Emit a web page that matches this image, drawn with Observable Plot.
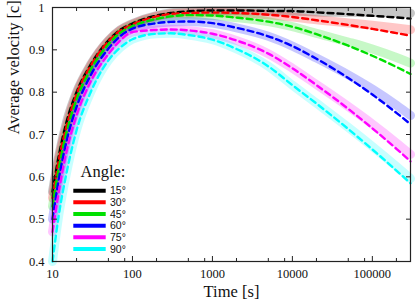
<!DOCTYPE html>
<html>
<head>
<meta charset="utf-8">
<script src="https://cdn.jsdelivr.net/npm/d3@7"></script>
<script src="https://cdn.jsdelivr.net/npm/@observablehq/plot@0.6"></script>
<style>
  html, body { margin: 0; padding: 0; background: white; }
  #chart { position: relative; width: 415px; height: 303px; }
</style>
</head>
<body>
<div id="chart"></div>
<script>
// ---- data ----
const times = [10, 12, 15, 20, 30, 50, 70, 100, 200, 300, 500, 1000, 2000, 5000, 10000, 20000, 50000, 100000, 200000, 300000];
const angles = ["15°", "30°", "45°", "60°", "75°", "90°"];
const colors = ["#000000", "#ff0000", "#00e000", "#0000ff", "#ff00ff", "#00ffff"];

const v15 = [0.565, 0.65, 0.73, 0.80, 0.865, 0.922, 0.947, 0.962, 0.981, 0.987, 0.991, 0.993, 0.993, 0.992, 0.9916, 0.9886, 0.9842, 0.9804, 0.9764, 0.9738];
const v30 = [0.55, 0.64, 0.72, 0.795, 0.862, 0.92, 0.945, 0.96, 0.979, 0.985, 0.987, 0.988, 0.987, 0.983, 0.9776, 0.9699, 0.9587, 0.9495, 0.9395, 0.9335];
const v45 = [0.53, 0.62, 0.705, 0.783, 0.853, 0.913, 0.94, 0.956, 0.973, 0.979, 0.982, 0.981, 0.976, 0.9665, 0.9546, 0.9370, 0.9097, 0.886, 0.8596, 0.843];
const v60 = [0.50, 0.595, 0.685, 0.765, 0.84, 0.903, 0.932, 0.95, 0.963, 0.966, 0.967, 0.963, 0.952, 0.932, 0.9089, 0.8789, 0.8335, 0.7943, 0.7512, 0.7242];
const v75 = [0.47, 0.565, 0.66, 0.745, 0.825, 0.89, 0.922, 0.942, 0.947, 0.948, 0.946, 0.938, 0.922, 0.891, 0.8565, 0.8167, 0.7605, 0.7146, 0.6662, 0.6367];
const v90 = [0.40, 0.51, 0.61, 0.71, 0.80, 0.875, 0.905, 0.925, 0.938, 0.939, 0.935, 0.924, 0.902, 0.861, 0.8166, 0.7731, 0.7129, 0.6648, 0.6148, 0.5847];

// the light bands follow the dashed curves, then separate at late times
const bandTimes = [20000, 50000, 100000, 200000, 300000];
const b15 = [0.9896, 0.9887, 0.9883, 0.9875, 0.9866];
const b30 = [0.9710, 0.9636, 0.9581, 0.9516, 0.9474];
const b45 = [0.9390, 0.9186, 0.9018, 0.8818, 0.8685];
const b60 = [0.8806, 0.8408, 0.8072, 0.7693, 0.7450];
const b75 = [0.8180, 0.7661, 0.7246, 0.6802, 0.6528];
const b90 = [0.7740, 0.7169, 0.6718, 0.6247, 0.5960];

const xMajor = [10, 100, 1000, 10000, 100000];
const xMinor = [20, 50, 80, 200, 500, 800, 2000, 5000, 8000, 20000, 50000, 80000, 200000];
const yMajor = [0.4, 0.5, 0.6, 0.7, 0.8, 0.9, 1];

// ---- build tables ----
const series = [v15, v30, v45, v60, v75, v90];
const bands = [b15, b30, b45, b60, b75, b90];
const dashed = [];
const band = [];
series.forEach((vals, k) => {
  times.forEach((t, i) => {
    dashed.push({angle: angles[k], t, v: vals[i]});
    if (t <= 10000) band.push({angle: angles[k], t, v: vals[i]});
  });
  bandTimes.forEach((t, i) => band.push({angle: angles[k], t, v: bands[k][i]}));
});

const plot = Plot.plot({
  width: 415,
  height: 303,
  marginLeft: 52,
  marginRight: 5,
  marginTop: 7,
  marginBottom: 42,
  style: {fontFamily: "'Liberation Serif', serif", fontSize: "12.5px", background: "white", color: "#111"},
  x: {type: "log", domain: [10, 300000], label: null},
  y: {domain: [0.4, 1], label: null},
  color: {domain: angles, range: colors},
  marks: [
    Plot.line(band, {x: "t", y: "v", z: "angle", stroke: "angle", strokeWidth: 9, strokeOpacity: 0.22, curve: "monotone-x"}),
    Plot.line(dashed, {x: "t", y: "v", z: "angle", stroke: "angle", strokeWidth: 2.4, strokeDasharray: "6,4", curve: "monotone-x"}),
    // tick labels
    Plot.axisX({ticks: xMajor, tickSize: 0, tickPadding: 8, tickFormat: d => String(d), label: null}),
    Plot.axisY({ticks: yMajor, tickSize: 0, tickPadding: 8, tickFormat: d => String(+d.toFixed(1)), label: null}),
    // inward tick marks
    Plot.axisX({ticks: xMajor, anchor: "bottom", tickSize: -5, tickFormat: () => "", label: null, stroke: "#222"}),
    Plot.axisX({ticks: xMajor, anchor: "top", tickSize: -5, tickFormat: () => "", label: null, stroke: "#222"}),
    Plot.axisX({ticks: xMinor, anchor: "bottom", tickSize: -3, tickFormat: () => "", label: null, stroke: "#222"}),
    Plot.axisX({ticks: xMinor, anchor: "top", tickSize: -3, tickFormat: () => "", label: null, stroke: "#222"}),
    Plot.axisY({ticks: yMajor, anchor: "left", tickSize: -5, tickFormat: () => "", label: null, stroke: "#222"}),
    Plot.axisY({ticks: yMajor, anchor: "right", tickSize: -5, tickFormat: () => "", label: null, stroke: "#222"}),
    Plot.frame({stroke: "#222", strokeWidth: 1.2}),
    Plot.text(["Time [s]"], {frameAnchor: "bottom", dy: 35, fontSize: 16.5, fill: "#111"}),
    Plot.text(["Average velocity [c]"], {frameAnchor: "left", dx: -39, rotate: -90, fontSize: 16.5, fill: "#111"})
  ]
});

document.getElementById("chart").appendChild(plot);

// ---- legend ----
const svg = d3.select(plot);
const lg = svg.append("g").attr("transform", "translate(73,172)").attr("text-anchor", "start");
lg.append("text").attr("x", 7.5).attr("y", 0).attr("dy", "0.32em")
  .attr("font-family", "'Liberation Serif', serif").attr("font-size", 16.5).attr("fill", "#111")
  .text("Angle:");
angles.forEach((a, i) => {
  const y = 18.7 + i * 11.65;
  lg.append("line").attr("x1", 0.3).attr("x2", 32.7).attr("y1", y).attr("y2", y)
    .attr("stroke", colors[i]).attr("stroke-width", 4);
  lg.append("text").attr("x", 37).attr("y", y).attr("dy", "0.35em")
    .attr("font-family", "'Liberation Sans', Arial, sans-serif").attr("font-size", 10.5).attr("fill", "#111")
    .text(a);
});
</script>
</body>
</html>
